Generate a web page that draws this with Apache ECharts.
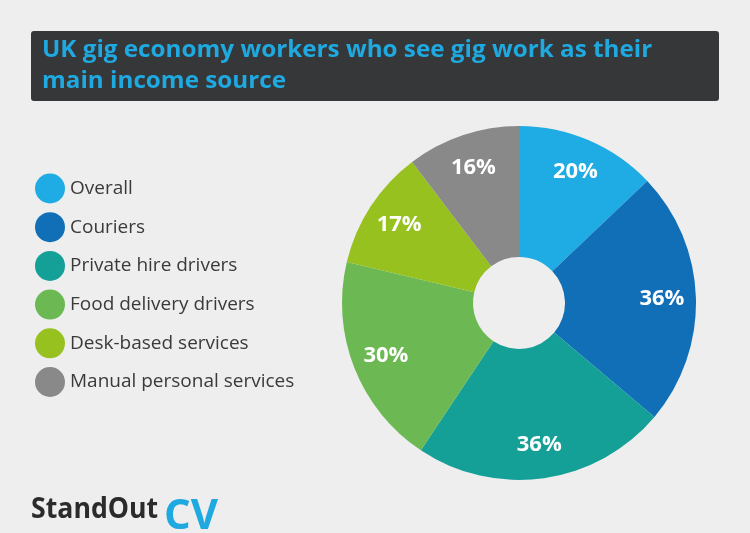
<!DOCTYPE html>
<html>
<head>
<meta charset="utf-8">
<script src="https://cdn.jsdelivr.net/npm/echarts@6/dist/echarts.min.js"></script>
<style>
html,body{margin:0;padding:0;background:#eeeeee;}
#chart{width:750px;height:533px;}
</style>
</head>
<body>
<div id="chart"></div>
<script>
const categories = ['Overall', 'Couriers', 'Private hire drivers', 'Food delivery drivers', 'Desk-based services', 'Manual personal services'];
const values = [20, 36, 36, 30, 17, 16];
const titleLines = ['UK gig economy workers who see gig work as their', 'main income source'];
const colors = ['#1fabe3', '#116fb7', '#14a097', '#6cb954', '#96c11f', '#898989'];

const pieData = categories.map((name, i) => ({ name: name, value: values[i], itemStyle: { color: colors[i] } }));
const labelData = categories.map((name, i) => ({ name: name, value: values[i] }));

const chart = echarts.init(document.getElementById('chart'), null, { renderer: 'canvas' });
chart.setOption({
  backgroundColor: '#eeeeee',
  animation: false,
  legend: {
    orient: 'vertical',
    left: 30,
    top: 168.5,
    icon: 'circle',
    itemWidth: 30,
    itemHeight: 30,
    itemGap: 8.7,
    data: categories,
    selectedMode: false,
    textStyle: { fontFamily: 'Open Sans', fontSize: 19, color: '#3a3a3a' }
  },
  graphic: [
    { type: 'rect', shape: { x: 31, y: 31, width: 688, height: 70, r: 3 }, style: { fill: '#353739' } },
    { type: 'text', x: 42, y: 35, scaleX: 1.01, style: { text: titleLines.join('\n'), font: 'bold 24px "Open Sans"', fill: '#1fa9e1', lineHeight: 31, textVerticalAlign: 'top' } },
    { type: 'text', x: 31, y: 495, scaleX: 0.92, style: { text: 'StandOut', font: 'bold 29px "Open Sans"', fill: '#2b2b2b', textVerticalAlign: 'alphabetic' } },
    { type: 'text', x: 164, y: 496, style: { text: 'CV', font: 'bold 42px "Open Sans"', fill: '#1fa9e1', textVerticalAlign: 'alphabetic' } }
  ],
  series: [
    {
      type: 'pie',
      center: [519, 303],
      radius: [46, 177],
      startAngle: 90,
      clockwise: true,
      silent: true,
      label: { show: false },
      labelLine: { show: false },
      data: pieData
    },
    {
      type: 'pie',
      center: [519, 303],
      radius: [103, 177],
      startAngle: 90,
      clockwise: true,
      silent: true,
      itemStyle: { color: 'rgba(0,0,0,0)' },
      label: { show: true, position: 'inside', formatter: '{c}%', color: '#ffffff', fontFamily: 'Open Sans', fontWeight: 'bold', fontSize: 22 },
      labelLine: { show: false },
      data: labelData
    }
  ]
});
</script>
</body>
</html>
